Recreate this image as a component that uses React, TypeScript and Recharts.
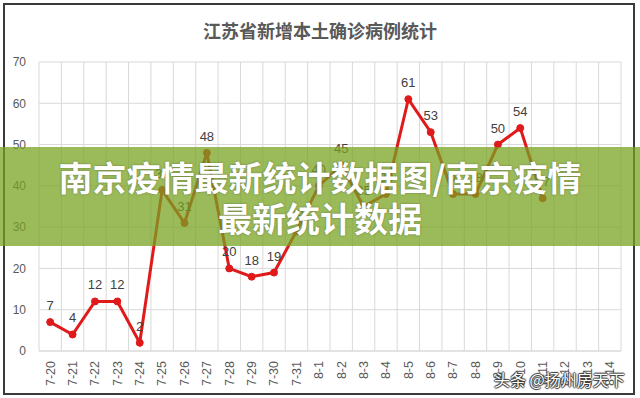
import React from "react";
import {
  LineChart,
  Line,
  XAxis,
  YAxis,
  CartesianGrid,
  LabelList,
} from "recharts";

const dates = [
  "7-20", "7-21", "7-22", "7-23", "7-24", "7-25", "7-26", "7-27", "7-28",
  "7-29", "7-30", "7-31", "8-1", "8-2", "8-3", "8-4", "8-5", "8-6", "8-7",
  "8-8", "8-9", "8-10", "8-11", "8-12", "8-13", "8-14",
];

const cases: (number | null)[] = [
  7, 4, 12, 12, 2, 39, 31, 48, 20, 18, 19, 29, 40, 45, 35, 38, 61, 53, 38,
  38, 50, 54, 37, null, null, null,
];

const yTicks = [0, 10, 20, 30, 40, 50, 60, 70];

const data = dates.map((d, i) => ({ date: d, cases: cases[i] }));

const W = 640;
const H = 398;
const labelFont = "'Liberation Sans Narrow', 'Liberation Sans', Arial, sans-serif";

const XTick = ({ x, y, payload }: any) => (
  <g transform={`translate(${x},${y})`}>
    <text
      transform="rotate(-90)"
      x={-8}
      dy="0.35em"
      textAnchor="end"
      fill="#595959"
      fontSize={12.5}
      fontFamily={labelFont}
    >
      {payload.value}
    </text>
  </g>
);

const ValueLabel = ({ x, y, value }: any) => {
  if (value === null || value === undefined) return null;
  return (
    <text
      x={x}
      y={y - 12}
      textAnchor="middle"
      fill="#404040"
      fontSize={13}
      fontFamily={labelFont}
    >
      {value}
    </text>
  );
};

export default function App() {
  return (
    <div
      style={{
        position: "fixed",
        left: 0,
        top: 0,
        width: W,
        height: H,
        background: "#fff",
        overflow: "hidden",
      }}
    >
      <div
        style={{
          position: "absolute",
          left: 3,
          top: 3,
          width: 628,
          height: 388,
          border: "2px solid #3a3a3a",
        }}
      />
      <div
        style={{
          position: "absolute",
          left: 0,
          top: 17,
          width: W,
          textAlign: "center",
          fontFamily: "'Noto Sans CJK SC', sans-serif",
          fontWeight: 700,
          fontSize: 18,
          color: "#595959",
        }}
      >
        江苏省新增本土确诊病例统计
      </div>
      <LineChart
        width={W}
        height={H}
        data={data}
        margin={{ top: 62, right: 19, left: 0, bottom: 0 }}
        style={{ position: "absolute", left: 0, top: 0 }}
      >
        <CartesianGrid
          stroke="#d9d9d9"
          verticalCoordinatesGenerator={({ offset }: any) =>
            dates
              .map((_, i) => offset.left + (i * offset.width) / dates.length)
              .concat(offset.left + offset.width)
          }
        />
        <XAxis
          dataKey="date"
          scale="band"
          interval={0}
          tick={<XTick />}
          tickLine={false}
          tickSize={0}
          axisLine={{ stroke: "#d9d9d9" }}
          height={47}
        />
        <YAxis
          domain={[0, 70]}
          ticks={yTicks}
          width={39}
          axisLine={false}
          tickLine={false}
          tickMargin={7}
          tick={{ fill: "#595959", fontSize: 12, fontFamily: labelFont }}
        />
        <Line
          dataKey="cases"
          stroke="#e01a1a"
          strokeWidth={3}
          dot={{ r: 3.5, fill: "#e01a1a", stroke: "#e01a1a", strokeWidth: 1 }}
          isAnimationActive={false}
        >
          <LabelList dataKey="cases" content={<ValueLabel />} />
        </Line>
      </LineChart>
      <div
        style={{
          position: "absolute",
          left: 0,
          top: 147,
          width: W,
          height: 99,
          background: "rgba(120,163,32,0.74)",
          display: "flex",
          flexDirection: "column",
          justifyContent: "center",
          alignItems: "center",
          color: "#fff",
          fontFamily: "'Noto Sans CJK SC', sans-serif",
          fontWeight: 700,
          fontSize: 34,
          lineHeight: "41px",
          textAlign: "center",
          textShadow: "0 0 2px rgba(60,60,40,0.6)",
        }}
      >
        <div>南京疫情最新统计数据图/南京疫情</div>
        <div>最新统计数据</div>
      </div>
      <div
        style={{
          position: "absolute",
          left: 494,
          top: 367,
          fontFamily: "'Noto Sans CJK SC', sans-serif",
          fontSize: 16,
          color: "#fff",
          textShadow:
            "1px 0 1px #333, -1px 0 1px #333, 0 1px 1px #333, 0 -1px 1px #333",
        }}
      >
        头条 @扬州房天下
      </div>
    </div>
  );
}
